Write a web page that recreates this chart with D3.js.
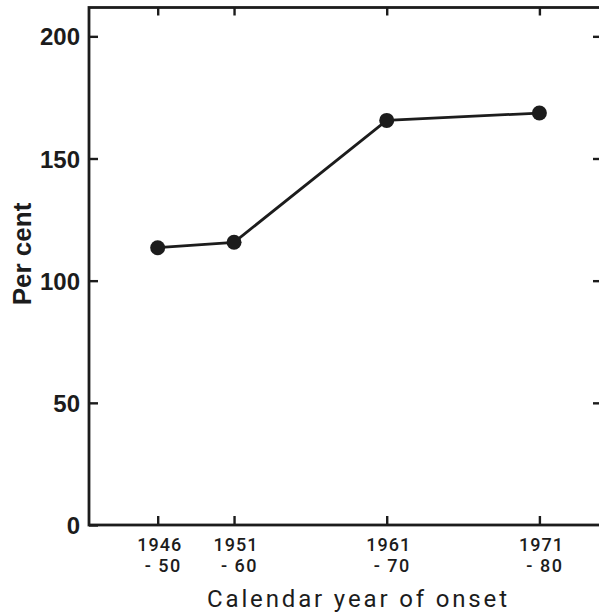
<!DOCTYPE html>
<html>
<head>
<meta charset="utf-8">
<script src="https://cdn.jsdelivr.net/npm/d3@7/dist/d3.min.js"></script>
<style>
  html, body { margin: 0; padding: 0; background: #fff; }
  svg { display: block; }
</style>
</head>
<body>
<svg id="chart" width="599" height="615"></svg>
<script>
// Period start years, their two-line labels, and the percentage for each period
const periodStart = [1946, 1951, 1961, 1971];
const periodTop = ["1946", "1951", "1961", "1971"];
const periodBottom = ["- 50", "- 60", "- 70", "- 80"];
const perCent = [113.5, 115.7, 165.6, 168.6];
const yTicks = [0, 50, 100, 150, 200];

const ink = "#1c1c1c";
const svg = d3.select("#chart");

const frameL = 89, frameR = 602, frameT = 7.5, frameB = 525;
const x = d3.scaleLinear().domain([1941.5, 1975.1]).range([frameL, frameR]);
const y = d3.scaleLinear().domain([0, 211.8]).range([frameB, frameT]);

// Frame
svg.append("rect")
  .attr("x", frameL).attr("y", frameT)
  .attr("width", frameR - frameL).attr("height", frameB - frameT)
  .attr("fill", "none").attr("stroke", ink).attr("stroke-width", 2.8);

function styleAxis(g) {
  g.select(".domain").remove();
  g.selectAll(".tick line").attr("stroke", ink).attr("stroke-width", 2.4);
}

const boldFont = "'Liberation Sans', Arial, sans-serif";
const labelFont = "Roboto, 'Liberation Sans', Arial, sans-serif";

// Left axis with inward ticks
svg.append("g")
  .attr("transform", `translate(${frameL},0)`)
  .call(d3.axisLeft(y).tickValues(yTicks).tickSize(-9).tickPadding(9))
  .call(styleAxis)
  .call(g => g.selectAll(".tick text")
    .attr("fill", ink)
    .style("font-family", boldFont)
    .style("font-weight", "bold")
    .style("font-size", "24px")
    .attr("dy", "0.36em"));

// Right axis ticks (inward)
svg.append("g")
  .attr("transform", `translate(${frameR},0)`)
  .call(d3.axisRight(y).tickValues(yTicks.slice(1)).tickSize(-9).tickFormat(""))
  .call(styleAxis);

// Bottom axis ticks (inward)
svg.append("g")
  .attr("transform", `translate(0,${frameB})`)
  .call(d3.axisBottom(x).tickValues(periodStart).tickSize(-9).tickFormat(""))
  .call(styleAxis);

// Top axis ticks (inward)
svg.append("g")
  .attr("transform", `translate(0,${frameT})`)
  .call(d3.axisTop(x).tickValues(periodStart).tickSize(-8).tickFormat(""))
  .call(styleAxis);

// Two-line period labels
const lab = svg.append("g")
  .style("font-family", labelFont)
  .style("font-weight", "500")
  .style("font-size", "18px")
  .attr("fill", ink);
lab.selectAll("text.top")
  .data(periodStart)
  .join("text")
  .attr("class", "top")
  .attr("x", d => x(d) + 2)
  .attr("y", 551)
  .attr("text-anchor", "middle")
  .style("letter-spacing", "1px")
  .text((d, i) => periodTop[i]);
lab.selectAll("text.bot")
  .data(periodStart)
  .join("text")
  .attr("class", "bot")
  .attr("x", d => x(d) + 24)
  .attr("y", 572)
  .attr("text-anchor", "end")
  .style("letter-spacing", "1.5px")
  .text((d, i) => periodBottom[i]);

// Axis titles
svg.append("text")
  .attr("x", 357).attr("y", 607)
  .attr("text-anchor", "middle")
  .attr("textLength", 300).attr("lengthAdjust", "spacing")
  .style("font-family", labelFont)
  .style("font-weight", "400")
  .style("font-size", "24px")
  .attr("fill", ink)
  .text("Calendar year of onset");

svg.append("text")
  .attr("transform", "translate(31,254) rotate(-90)")
  .attr("text-anchor", "middle")
  .style("font-family", boldFont)
  .style("font-weight", "bold")
  .style("font-size", "26px")
  .attr("fill", ink)
  .text("Per cent");

// Data line and markers
const line = d3.line()
  .x((d, i) => x(periodStart[i]))
  .y(d => y(d));
svg.append("path")
  .datum(perCent)
  .attr("d", line)
  .attr("fill", "none")
  .attr("stroke", ink)
  .attr("stroke-width", 2.8);
svg.selectAll("circle.pt")
  .data(perCent)
  .join("circle")
  .attr("class", "pt")
  .attr("cx", (d, i) => x(periodStart[i]))
  .attr("cy", d => y(d))
  .attr("r", 7.5)
  .attr("fill", ink);
</script>
</body>
</html>
